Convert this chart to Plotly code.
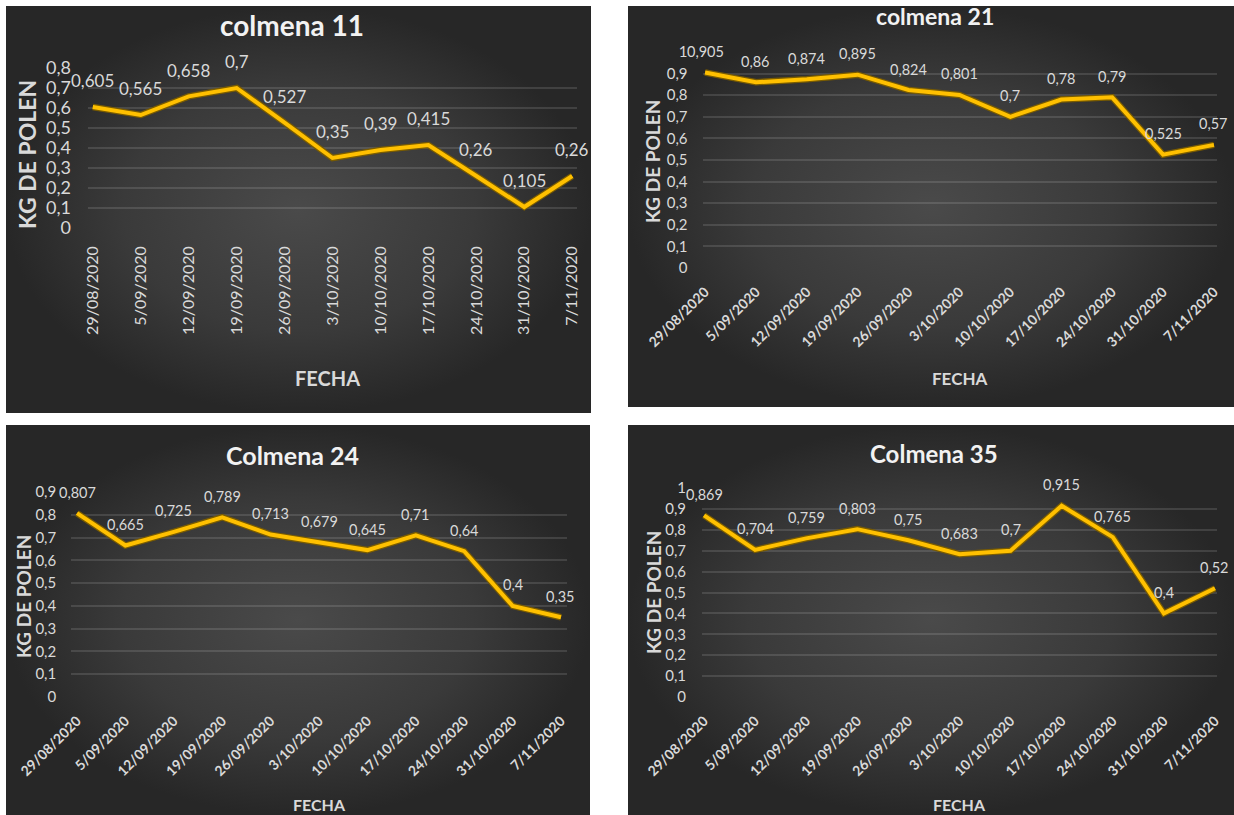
import plotly.graph_objects as go

W, H = 1234, 815

fechas = ["29/08/2020", "5/09/2020", "12/09/2020", "19/09/2020", "26/09/2020",
          "3/10/2020", "10/10/2020", "17/10/2020", "24/10/2020", "31/10/2020", "7/11/2020"]

colmena_11 = [0.605, 0.565, 0.658, 0.7, 0.527, 0.35, 0.39, 0.415, 0.26, 0.105, 0.26]
colmena_21 = [0.905, 0.86, 0.874, 0.895, 0.824, 0.801, 0.7, 0.78, 0.79, 0.525, 0.57]
colmena_24 = [0.807, 0.665, 0.725, 0.789, 0.713, 0.679, 0.645, 0.71, 0.64, 0.4, 0.35]
colmena_35 = [0.869, 0.704, 0.759, 0.803, 0.75, 0.683, 0.7, 0.915, 0.765, 0.4, 0.52]

titulos = ["colmena 11", "colmena 21", "Colmena 24", "Colmena 35"]
series = [colmena_11, colmena_21, colmena_24, colmena_35]
y_max = [0.8, 1.0, 0.9, 1.0]


def px_x(v):
    return v / W


def px_y(v):
    return 1 - v / H


# layout / style per panel (pixel positions in the 1234x815 canvas)
panels = [
    dict(bg=(6, 591, 6, 413), plot=(88, 577, 68, 228), xpad=0.1,
         title=(292, 25, 28), ytitle=(27, 155, 23), xtitle=(327, 378, 20),
         ytick=18, xtick=16, xbold=False, xangle=-90, lab=17, yshift=26,
         standoff=16, xstandoff=14),
    dict(bg=(628, 1234, 6, 407), plot=(702.5, 1216.5, 52, 268), xpad=0.05,
         title=(935, 16, 23), ytitle=(653, 162, 19), xtitle=(959, 378, 17),
         ytick=15, xtick=14, xbold=True, xangle=-45, lab=14.5, yshift=21,
         standoff=14, xstandoff=12),
    dict(bg=(6, 590, 425, 815), plot=(71.2, 566.8, 492, 697), xpad=0.12,
         title=(292, 455, 25), ytitle=(23, 597, 19), xtitle=(319, 804, 16),
         ytick=15, xtick=14, xbold=True, xangle=-45, lab=14.5, yshift=21,
         standoff=14, xstandoff=12),
    dict(bg=(628, 1234, 425, 815), plot=(702, 1217, 488, 697), xpad=0.04,
         title=(934, 453, 24), ytitle=(653, 593, 19), xtitle=(959, 804, 16),
         ytick=15, xtick=14, xbold=True, xangle=-45, lab=14.5, yshift=21,
         standoff=15, xstandoff=12),
]

FONT = "Lato"
TXT = "#d9d9d9"

fig = go.Figure()
layout = dict(
    width=W, height=H, margin=dict(l=0, r=0, t=0, b=0, autoexpand=False),
    paper_bgcolor="white", plot_bgcolor="rgba(0,0,0,0)",
    showlegend=False, separators=",.",
    font=dict(family=FONT, color=TXT),
)
annotations = []

# background panels (axes 1-4)
for i, p in enumerate(panels, start=1):
    x0, x1, y0, y1 = p["bg"]
    fig.add_trace(go.Scatter(
        x=[0, 1, 1, 0, 0], y=[0, 0, 1, 1, 0], mode="lines", fill="toself",
        fillgradient=dict(type="radial",
                          colorscale=[[0, "#4a4a4a"], [0.6, "#3a3a3a"], [1, "#272727"]]),
        line=dict(width=0), hoverinfo="skip",
        xaxis=f"x{i}", yaxis=f"y{i}"))
    layout[f"xaxis{i}"] = dict(domain=[px_x(x0), px_x(x1)], range=[0, 1], visible=False,
                               fixedrange=True, anchor=f"y{i}", automargin=False)
    layout[f"yaxis{i}"] = dict(domain=[px_y(y1), px_y(y0)], range=[0, 1], visible=False,
                               fixedrange=True, anchor=f"x{i}", automargin=False)

# data panels (axes 5-8)
for k, (p, vals, tit, ym) in enumerate(zip(panels, series, titulos, y_max)):
    i = k + 5
    x0, x1, y0, y1 = p["plot"]
    fig.add_trace(go.Scatter(
        x=fechas, y=vals, mode="lines", hoverinfo="skip",
        line=dict(color="#7a5c00", width=6.5), cliponaxis=False,
        xaxis=f"x{i}", yaxis=f"y{i}"))
    fig.add_trace(go.Scatter(
        x=fechas, y=vals, mode="lines",
        line=dict(color="#FFC000", width=4), cliponaxis=False,
        xaxis=f"x{i}", yaxis=f"y{i}"))
    layout[f"xaxis{i}"] = dict(
        domain=[px_x(x0), px_x(x1)], anchor=f"y{i}", type="category",
        range=[-p["xpad"], len(fechas) - 1 + p["xpad"]], automargin=False,
        showgrid=False, zeroline=False, showline=False, ticks="",
        ticklabelstandoff=p["xstandoff"], tickangle=p["xangle"],
        tickfont=dict(size=p["xtick"], color=TXT, family=FONT,
                      weight="bold" if p["xbold"] else "normal"))
    layout[f"yaxis{i}"] = dict(
        domain=[px_y(y1), px_y(y0)], anchor=f"x{i}", range=[0, ym], dtick=0.1,
        showgrid=True, gridcolor="rgba(255,255,255,0.12)", gridwidth=1.5,
        zeroline=False, showline=False, ticks="", automargin=False,
        ticklabelstandoff=p["standoff"],
        tickfont=dict(size=p["ytick"], color=TXT, family=FONT))
    for xv, yv in zip(fechas, vals):
        annotations.append(dict(
            x=xv, y=yv, xref=f"x{i}", yref=f"y{i}", text=f"{yv:g}".replace(".", ","),
            showarrow=False, yshift=p["yshift"], xanchor="center", yanchor="middle",
            font=dict(size=p["lab"], color=TXT, family=FONT)))
    tx, ty, ts = p["title"]
    annotations.append(dict(x=px_x(tx), y=px_y(ty), xref="paper", yref="paper",
                            xanchor="center", yanchor="middle",
                            text=f"<b>{tit}</b>", showarrow=False,
                            font=dict(size=ts, color="#f2f2f2", family=FONT)))
    yx, yy, ys = p["ytitle"]
    annotations.append(dict(x=px_x(yx), y=px_y(yy), xref="paper", yref="paper",
                            xanchor="center", yanchor="middle",
                            text="<b>KG DE POLEN</b>", textangle=-90, showarrow=False,
                            font=dict(size=ys, color=TXT, family=FONT)))
    fx, fy, fs = p["xtitle"]
    annotations.append(dict(x=px_x(fx), y=px_y(fy), xref="paper", yref="paper",
                            xanchor="center", yanchor="middle",
                            text="<b>FECHA</b>", showarrow=False,
                            font=dict(size=fs, color=TXT, family=FONT)))

layout["annotations"] = annotations
fig.update_layout(**layout)
fig.write_html("out.html", config={"displayModeBar": False},
               post_script="document.body.style.margin='0px';")
